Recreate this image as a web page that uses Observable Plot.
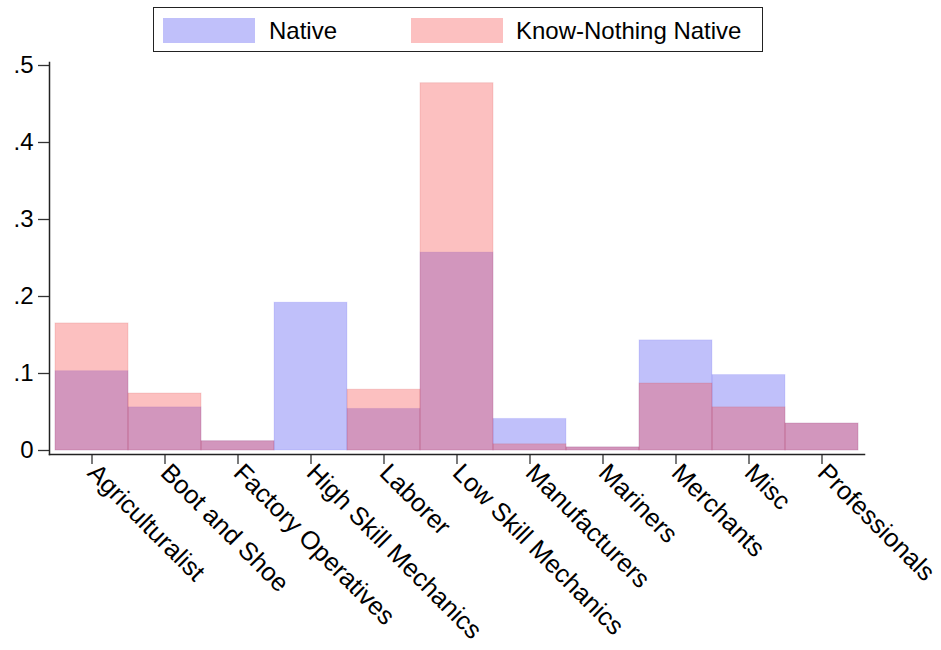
<!DOCTYPE html>
<html>
<head>
<meta charset="utf-8">
<script src="https://cdn.jsdelivr.net/npm/d3@7"></script>
<script src="https://cdn.jsdelivr.net/npm/@observablehq/plot@0.6"></script>
<style>
  body { margin: 0; background: #fff; font-family: "Liberation Sans", Arial, sans-serif; }
  #wrap { position: relative; width: 941px; height: 650px; }
  #legend { position: relative; width: 941px; height: 60px; z-index: 2; }
  #chart { position: relative; z-index: 1; }
  #chart svg { overflow: visible; }
  .box { position: absolute; left: 153px; top: 7px; width: 608px; height: 43px; border: 1.5px solid #222; background: #fff; }
  .sw { position: absolute; top: 18px; width: 92px; height: 25px; }
  .lt { position: absolute; top: 16px; font-size: 24px; line-height: 30px; color: #000; }
</style>
</head>
<body>
<div id="wrap">
  <div id="legend"></div>
  <div id="chart"></div>
</div>
<script>
const categories = ["Agriculturalist", "Boot and Shoe", "Factory Operatives", "High Skill Mechanics", "Laborer", "Low Skill Mechanics", "Manufacturers", "Mariners", "Merchants", "Misc", "Professionals"];
const nativeShare = [0.103, 0.056, 0.012, 0.192, 0.054, 0.257, 0.041, 0.004, 0.143, 0.098, 0.035];
const knowNothingShare = [0.165, 0.074, 0.012, 0, 0.079, 0.477, 0.008, 0.004, 0.087, 0.056, 0.035];
const yTicks = [0, 0.1, 0.2, 0.3, 0.4, 0.5];
const seriesNames = ["Native", "Know-Nothing Native"];
const seriesColors = ["rgb(70,70,240)", "rgb(246,70,70)"];
const alpha = 0.34;

const nativeRows = categories.map((c, i) => ({cat: c, v: nativeShare[i]}));
const knRows = categories.map((c, i) => ({cat: c, v: knowNothingShare[i]}));

// legend
const leg = document.getElementById("legend");
leg.innerHTML = `<div class="box"></div>`;
const swX = [163, 411], txX = [269, 516];
seriesNames.forEach((n, i) => {
  const s = document.createElement("div");
  s.className = "sw";
  s.style.left = swX[i] + "px";
  s.style.background = seriesColors[i];
  s.style.opacity = alpha;
  leg.appendChild(s);
  const t = document.createElement("div");
  t.className = "lt";
  t.style.left = txX[i] + "px";
  t.textContent = n;
  leg.appendChild(t);
});

const fmt = d => d === 0 ? "0" : String(d).replace(/^0/, "");

const chart = Plot.plot({
  width: 941,
  height: 590,
  marginTop: 2,
  marginBottom: 196,
  marginLeft: 49,
  marginRight: 77,
  style: {fontFamily: "'Liberation Sans', Arial, sans-serif", color: "#000", background: "transparent", overflow: "visible"},
  x: {type: "band", domain: categories, padding: 0, insetLeft: 3, insetRight: 4},
  y: {domain: [0, 0.5], insetTop: 3, insetBottom: 4},
  marks: [
    Plot.barY(nativeRows, {x: "cat", y: "v", fill: seriesColors[0], fillOpacity: alpha, stroke: seriesColors[0], strokeOpacity: 0.12, strokeWidth: 1, inset: 0}),
    Plot.barY(knRows, {x: "cat", y: "v", fill: seriesColors[1], fillOpacity: alpha, stroke: "rgb(200,60,60)", strokeOpacity: 0.15, strokeWidth: 1, inset: 0}),
    Plot.axisY({ticks: yTicks, tickFormat: fmt, tickSize: 11, tickPadding: 5, fontSize: 24, stroke: "#333", strokeWidth: 1.3, label: null}),
    Plot.axisX({tickSize: 10, tickPadding: 4, tickRotate: 45, fontSize: 25.5, stroke: "#333", strokeWidth: 1.3, label: null}),
    Plot.frame({anchor: "left", stroke: "#222", strokeWidth: 1.5}),
    Plot.frame({anchor: "bottom", stroke: "#222", strokeWidth: 1.5})
  ]
});
chart.style.overflow = "visible";
document.getElementById("chart").appendChild(chart);
</script>
</body>
</html>
